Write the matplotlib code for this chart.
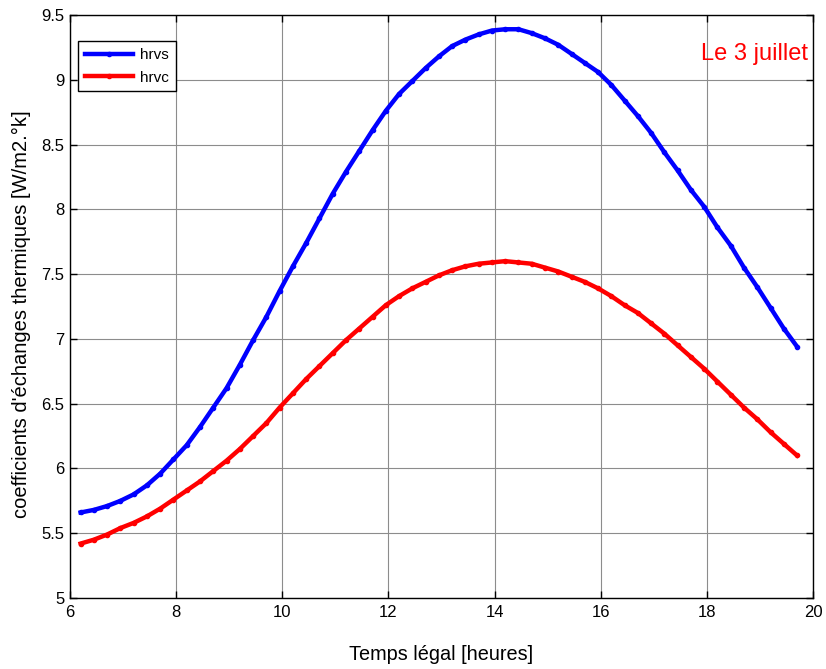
import matplotlib
matplotlib.use("Agg")
import matplotlib.pyplot as plt
import numpy as np

plt.rcParams['font.family'] = ['Liberation Sans', 'DejaVu Sans']

# Time (hours)
temps = [6.20, 6.45, 6.70, 6.95, 7.20, 7.45, 7.70, 7.95, 8.20, 8.45, 8.70, 8.95,
         9.20, 9.45, 9.70, 9.95, 10.20, 10.45, 10.70, 10.95, 11.20, 11.45, 11.70,
         11.95, 12.20, 12.45, 12.70, 12.95, 13.20, 13.45, 13.70, 13.95, 14.20,
         14.45, 14.70, 14.95, 15.20, 15.45, 15.70, 15.95, 16.20, 16.45, 16.70,
         16.95, 17.20, 17.45, 17.70, 17.95, 18.20, 18.45, 18.70, 18.95, 19.20,
         19.45, 19.70]

hrvs = [5.66, 5.68, 5.71, 5.75, 5.80, 5.87, 5.96, 6.07, 6.18, 6.32, 6.47, 6.62,
        6.80, 6.99, 7.17, 7.37, 7.56, 7.74, 7.93, 8.12, 8.29, 8.45, 8.61, 8.76,
        8.89, 8.99, 9.09, 9.18, 9.26, 9.31, 9.35, 9.38, 9.39, 9.39, 9.36, 9.32,
        9.27, 9.20, 9.13, 9.06, 8.96, 8.84, 8.72, 8.59, 8.44, 8.30, 8.15, 8.02,
        7.86, 7.72, 7.55, 7.40, 7.24, 7.08, 6.94]

hrvc = [5.42, 5.45, 5.49, 5.54, 5.58, 5.63, 5.69, 5.76, 5.83, 5.90, 5.98, 6.06,
        6.15, 6.25, 6.35, 6.47, 6.58, 6.69, 6.79, 6.89, 6.99, 7.08, 7.17, 7.26,
        7.33, 7.39, 7.44, 7.49, 7.53, 7.56, 7.58, 7.59, 7.60, 7.59, 7.58, 7.55,
        7.52, 7.48, 7.44, 7.39, 7.33, 7.26, 7.20, 7.12, 7.04, 6.95, 6.86, 6.77,
        6.67, 6.57, 6.47, 6.38, 6.28, 6.19, 6.10]

xticks = [6, 8, 10, 12, 14, 16, 18, 20]
yticks = [5, 5.5, 6, 6.5, 7, 7.5, 8, 8.5, 9, 9.5]
ytick_labels = ['5', '5.5', '6', '6.5', '7', '7.5', '8', '8.5', '9', '9.5']

fig = plt.figure(figsize=(8.26, 6.69), dpi=100)
ax = fig.add_axes([70/826, 1 - 598/669, 743/826, 583/669])

ax.plot(temps, hrvs, color='#0000ff', lw=3.2, marker='.', ms=6, label='hrvs')
ax.plot(temps, hrvc, color='#ff0000', lw=3.2, marker='.', ms=6, label='hrvc')

ax.set_xlim(6, 20)
ax.set_ylim(5, 9.5)
ax.set_xticks(xticks)
ax.set_yticks(yticks)
ax.set_yticklabels(ytick_labels)
ax.tick_params(direction='in', top=True, right=True, length=5, width=1,
               labelsize=12, colors='black')
ax.tick_params(axis='x', pad=5)
ax.tick_params(axis='y', pad=4)
ax.grid(True, color='#8c8c8c', linestyle='-', linewidth=0.8)
for s in ax.spines.values():
    s.set_linewidth(1.0)
    s.set_color('black')

ax.set_xlabel('Temps légal [heures]', fontsize=14.3, labelpad=18)
ax.set_ylabel("coefficients d'échanges thermiques [W/m2.°k]", fontsize=14.5)
ax.yaxis.set_label_coords(-0.052, 0.487)

ax.text(0.993, 0.923, 'Le 3 juillet', transform=ax.transAxes, ha='right',
        va='baseline', color='#ff0000', fontsize=17)

leg = ax.legend(loc='upper left', bbox_to_anchor=(0.0104, 0.955), borderaxespad=0,
                fontsize=11, fancybox=False, framealpha=1, edgecolor='black',
                handlelength=3.2, labelspacing=0.55, borderpad=0.45, handletextpad=0.45)
leg.get_frame().set_linewidth(1.0)

fig.savefig('out.png', dpi=100)
